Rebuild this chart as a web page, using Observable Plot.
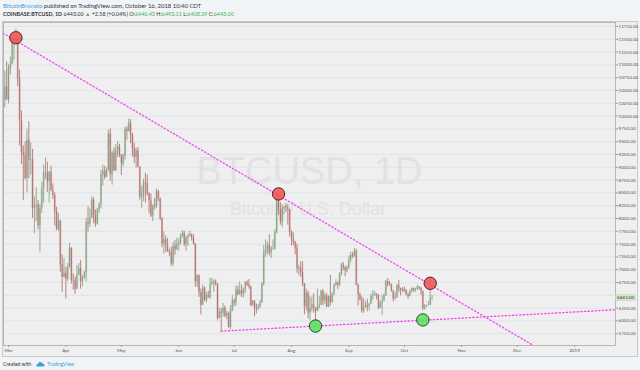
<!DOCTYPE html>
<html><head><meta charset="utf-8">
<script src="https://cdn.jsdelivr.net/npm/d3@7"></script>
<script src="https://cdn.jsdelivr.net/npm/@observablehq/plot@0.6"></script>
<style>
html,body{margin:0;padding:0;background:#f1f4f7;width:640px;height:370px;overflow:hidden;font-family:Lato,"Open Sans",sans-serif;}
.hdr{position:absolute;left:3px;font-size:5.9px;line-height:7px;color:#333;white-space:nowrap;}
#hdr1{top:1.5px;}
#hdr2{top:10.5px;font-size:5.4px;}
.blue{color:#3b9fdc;}
.grn{color:#4caf50;}
.b{font-weight:bold;}
#frame{position:absolute;left:2px;top:21px;width:634px;height:334px;border:1px solid #c9c9c9;background:#efefef;}
#frame svg{position:absolute;left:0;top:0;}
#footer{position:absolute;left:3px;top:361px;font-size:5px;line-height:6px;color:#333;white-space:nowrap;}
#footer svg{vertical-align:-1px;margin:0 2px 0 5px;}
</style></head>
<body>
<div class="hdr" id="hdr1"><span class="blue">BitcoinBravado</span> published on TradingView.com, October 16, 2018 10:40 CDT</div>
<div class="hdr" id="hdr2"><span class="b">COINBASE:BTCUSD, 1D</span> 6443.00 <span class="grn">▲</span> +2.58 (+0.04%) O:<span class="grn">6440.43</span> H:<span class="grn">6493.11</span> L:<span class="grn">6408.39</span> C:<span class="grn">6443.00</span></div>
<div id="frame"></div>
<div id="footer">Created with<svg width="9" height="6" viewBox="0 0 9 6"><path d="M1.5 5.5 Q0 5.5 0.3 4 Q0.6 3 1.8 3.2 Q2.2 1 4.2 1 Q6 1 6.4 2.6 Q8.8 2.6 8.6 4.4 Q8.4 5.5 7 5.5 Z" fill="#3b9fdc"/></svg><span class="blue">TradingView</span></div>
<script>
// Daily candles [open, high, low, close], consecutive days starting 2018-02-26
const firstDay = "2018-02-26";
const feb = [[9590,10420,9380,10320],[10320,10880,10160,10570],[10570,11060,10300,10320]];
const mar = [
[10320,11000,10240,10920],[10920,11150,10800,11020],[11020,11530,11000,11440],[11440,11510,11090,11490],
[11490,11700,11420,11520],[11520,11520,10580,10720],[10720,10900,9420,9900],[9900,10100,9050,9290],
[9290,9420,8350,9230],[9230,9500,8750,8780],[8780,9740,8500,9530],[9530,9890,8780,9140],
[9140,9480,8850,9150],[9150,9350,8000,8200],[8200,8420,7700,8260],[8260,8600,7940,8270],
[8270,8350,7780,7860],[7860,8270,7330,8200],[8200,8700,8100,8590],[8590,9050,8300,8900],
[8900,9180,8770,8900],[8900,9100,8510,8720],[8720,8920,8300,8900],[8900,9020,8520,8550],
[8550,8680,8370,8450],[8450,8500,7850,8130],[8130,8220,7760,7790],[7790,8100,7750,7950],
[7950,7970,6950,7090],[7090,7290,6560,6850],[6850,7220,6840,6930]];
const apr = [
[6930,7050,6430,6810],[6810,7120,6770,7050],[7050,7520,7030,7420],[7420,7430,6720,6790],
[6790,6920,6600,6780],[6780,6860,6520,6620],[6620,7080,6610,6900],[6900,7120,6880,7020],
[7020,7180,6620,6770],[6770,6880,6670,6830],[6830,6970,6820,6940],[6940,8000,6760,7920],
[7920,8230,7740,7890],[7890,8190,7830,8000],[8000,8420,8000,8360],[8360,8410,7900,8050],
[8050,8170,7830,7890],[7890,8200,7870,8170],[8170,8300,8100,8280],[8280,8940,8190,8860],
[8860,9040,8630,8920],[8920,9020,8760,8800],[8800,8990,8800,8940],[8940,9720,8920,9650],
[9650,9750,8730,8860],[8860,9310,8650,9280],[9280,9380,8920,8930],[8930,9440,8920,9340],
[9340,9500,9190,9400],[9400,9450,9190,9240]];
const may = [
[9240,9250,8840,9070],[9070,9260,9010,9220],[9220,9780,9140,9740],[9740,9790,9530,9700],
[9700,9940,9690,9860],[9860,9930,9460,9620],[9620,9660,9200,9370],[9370,9470,9070,9190],
[9190,9370,8980,9320],[9320,9390,8990,9010],[9010,9010,8360,8420],[8420,8630,8200,8470],
[8470,8770,8330,8700],[8700,8880,8300,8680],[8680,8850,8440,8480],[8480,8500,8100,8340],
[8340,8480,8020,8050],[8050,8270,7940,8240],[8240,8390,8170,8230],[8230,8580,8190,8520],
[8520,8550,8330,8390],[8390,8400,7960,7990],[7990,8020,7430,7500],[7500,7740,7300,7580],
[7580,7660,7340,7460],[7460,7610,7340,7350],[7350,7400,7260,7340],[7340,7440,7070,7110],
[7110,7530,7060,7460],[7460,7570,7280,7390],[7390,7620,7380,7490]];
const jun = [
[7490,7600,7360,7530],[7530,7700,7470,7640],[7640,7760,7620,7710],[7710,7750,7450,7490],
[7490,7650,7360,7620],[7620,7700,7460,7650],[7650,7750,7640,7680],[7680,7700,7560,7620],
[7620,7680,7480,7510],[7510,7510,6660,6770],[6770,6900,6650,6880],[6880,6900,6460,6550],
[6550,6620,6120,6310],[6310,6700,6300,6640],[6640,6660,6380,6400],[6400,6560,6350,6500],
[6500,6580,6440,6460],[6460,6830,6420,6710],[6710,6830,6690,6740],[6740,6800,6560,6760],
[6760,6800,6680,6720],[6720,6730,6000,6050],[6050,6250,6040,6170],[6170,6250,5780,6150],
[6150,6340,6070,6250],[6250,6290,6060,6090],[6090,6190,6020,6140],[6140,6170,5860,5870],
[5870,6300,5830,6200],[6200,6500,6180,6390]];
const jul = [
[6390,6430,6280,6350],[6350,6680,6280,6610],[6610,6680,6490,6510],[6510,6760,6500,6590],
[6590,6700,6460,6530],[6530,6640,6450,6600],[6600,6770,6530,6750],[6750,6780,6670,6700],
[6700,6810,6620,6660],[6660,6680,6280,6290],[6290,6400,6290,6390],[6390,6390,6080,6240],
[6240,6330,6140,6230],[6230,6320,6200,6270],[6270,6400,6250,6350],[6350,6750,6340,6720],
[6720,7480,6680,7320],[7320,7580,7240,7380],[7380,7540,7290,7470],[7470,7680,7270,7330],
[7330,7450,7220,7400],[7400,7580,7380,7400],[7400,7780,7380,7720],[7720,8480,7700,8400],
[8400,8490,8060,8170],[8170,8310,7870,7930],[7930,8270,7820,8190],[8190,8240,8070,8230],
[8230,8290,8120,8210],[8210,8270,7870,8170],[8170,8180,7640,7730]];
const aug = [
[7730,7760,7460,7600],[7600,7720,7470,7540],[7540,7550,7290,7420],[7420,7500,6930,7010],
[7010,7090,6880,7030],[7030,7160,6850,6940],[6940,7150,6670,6720],[6720,6730,6120,6280],
[6280,6620,6200,6540],[6540,6580,6040,6150],[6150,6480,6000,6240],[6240,6460,6180,6310],
[6310,6530,6150,6250],[6250,6260,5880,6190],[6190,6620,6180,6270],[6270,6480,6230,6310],
[6310,6600,6300,6580],[6580,6610,6300,6390],[6390,6540,6320,6490],[6490,6530,6260,6270],
[6270,6490,6260,6480],[6480,6890,6290,6360],[6360,6550,6350,6530],[6530,6720,6490,6690],
[6690,6800,6680,6740],[6740,6760,6610,6700],[6700,6940,6670,6910],[6910,7130,6880,7090],
[7090,7140,6980,7040],[7040,7060,6860,6980],[6980,7080,6940,7030]];
const sep = [
[7030,7270,7010,7190],[7190,7340,7130,7280],[7280,7340,7220,7260],[7260,7410,7240,7360],
[7360,7400,6690,6700],[6700,6720,6290,6510],[6510,6540,6390,6410],[6410,6470,6150,6190],
[6190,6440,6150,6250],[6250,6370,6250,6300],[6300,6420,6180,6280],[6280,6340,6200,6330],
[6330,6530,6330,6480],[6480,6590,6400,6490],[6490,6570,6480,6520],[6520,6530,6410,6500],
[6500,6510,6220,6250],[6250,6390,6240,6340],[6340,6500,6110,6390],[6390,6530,6380,6490],
[6490,6790,6480,6760],[6760,6830,6660,6720],[6720,6770,6680,6700],[6700,6720,6560,6590],
[6590,6590,6370,6430],[6430,6550,6410,6460],[6460,6710,6440,6690],[6690,6790,6550,6630],
[6630,6640,6490,6590],[6590,6650,6550,6620]];
const oct = [
[6620,6660,6550,6590],[6590,6610,6490,6520],[6520,6530,6420,6480],[6480,6600,6470,6580],
[6580,6650,6540,6630],[6630,6640,6560,6590],[6590,6640,6560,6610],[6610,6700,6600,6660],
[6660,6670,6600,6640],[6640,6650,6500,6580],[6580,6580,6200,6240],[6240,6320,6210,6290],
[6290,6310,6260,6300],[6300,6380,6290,6300],[6300,6780,6300,6440],[6440.43,6493.11,6408.39,6443]];

const gridTicks = [5750,6000,6250,6500,6750,7000,7250,7500,7750,8000,8250,8500,8750,9000,9250,9500,9750,10000,10250,10500,10750,11000,11250,11500,11750];
// 6500.00 label is hidden behind the last-price marker in the reference
const priceLabelTicks = [5750,6000,6250,6750,7000,7250,7500,7750,8000,8250,8500,8750,9000,9250,9500,9750,10000,10250,10500,10750,11000,11250,11500,11750];
const monthTickDates = ["2018-03-01","2018-04-01","2018-05-01","2018-06-01","2018-07-01","2018-08-01","2018-09-01","2018-10-01","2018-11-01","2018-12-01","2019-01-01"];
const monthTickLabels = ["Mar","Apr","May","Jun","Jul","Aug","Sep","Oct","Nov","Dec","2019"];

const upperTrend = [{date:"2018-02-26", value:11620},{date:"2018-12-12", value:5473}];
const lowerTrend = [{date:"2018-06-24", value:5800},{date:"2019-01-24", value:6220}];
const resistanceTouches = [{date:"2018-03-05", value:11530},{date:"2018-07-25", value:8480},{date:"2018-10-15", value:6735}];
const supportTouches = [{date:"2018-08-14", value:5900},{date:"2018-10-11", value:6020}];
const lastPrice = 6443.00;

// build table
const start = new Date(firstDay + "T00:00:00Z");
const rows = [].concat(feb, mar, apr, may, jun, jul, aug, sep, oct);
const candles = rows.map((r, i) => ({date: d3.utcDay.offset(start, i), open: r[0], high: r[1], low: r[2], close: r[3]}));
const up = candles.filter(d => d.close >= d.open);
const down = candles.filter(d => d.close < d.open);
const parse = s => new Date(s + "T00:00:00Z");
const toPts = arr => arr.map(d => ({date: parse(d.date), value: d.value}));
const tickDates = monthTickDates.map(parse);
const labelOf = new Map(tickDates.map((d, i) => [+d, monthTickLabels[i]]));

// layout: plot x range 0..612 px; Mar 1 sits 5 px in, 1.8497 px per day
const mar1 = parse("2018-03-01");
const pxPerDay = 1.8497;
const x0 = new Date(+mar1 - 5 / pxPerDay * 864e5);
const x1 = new Date(+mar1 + 607 / pxPerDay * 864e5);

const plot = Plot.plot({
  width: 634, height: 334,
  marginLeft: 0, marginRight: 22, marginTop: 0, marginBottom: 11,
  style: {background: "transparent", fontFamily: "Lato, 'Open Sans', sans-serif", fontSize: "4.6px", color: "#555", overflow: "visible"},
  x: {type: "utc", domain: [x0, x1]},
  y: {domain: [5520, 11828]},
  marks: [
    Plot.gridY(gridTicks, {stroke: "#d9e2ec", strokeOpacity: 1, strokeWidth: 0.8}),
    Plot.text(["BTCUSD, 1D"], {frameAnchor: "middle", dy: -12, fontSize: 38, fill: "#e2e2e2", fontFamily: "Liberation Sans"}),
    Plot.text(["Bitcoin / U.S. Dollar"], {frameAnchor: "middle", dx: -1.5, dy: 25, fontSize: 18, fill: "#e2e2e2", fontFamily: "Liberation Sans"}),
    Plot.ruleX(up, {x: "date", y1: "open", y2: "close", stroke: "#93b08c", strokeOpacity: 0.5, strokeWidth: 2, clip: true}),
    Plot.ruleX(down, {x: "date", y1: "open", y2: "close", stroke: "#c98585", strokeOpacity: 0.5, strokeWidth: 2, clip: true}),
    Plot.ruleX(up, {x: "date", y1: "low", y2: "high", stroke: "#66895f", strokeOpacity: 0.85, strokeWidth: 0.8, clip: true}),
    Plot.ruleX(down, {x: "date", y1: "low", y2: "high", stroke: "#a24c4c", strokeOpacity: 0.85, strokeWidth: 0.8, clip: true}),
    Plot.line(toPts(upperTrend), {x: "date", y: "value", stroke: "#f246f2", strokeWidth: 1.3, strokeDasharray: "1.3 2.3", clip: true}),
    Plot.line(toPts(lowerTrend), {x: "date", y: "value", stroke: "#f246f2", strokeWidth: 1.3, strokeDasharray: "1.3 2.3", clip: true}),
    Plot.dot(toPts(resistanceTouches), {x: "date", y: "value", r: 6.2, fill: "#f25656", fillOpacity: 0.9, stroke: "#3a1c1c", strokeWidth: 0.9}),
    Plot.dot(toPts(supportTouches), {x: "date", y: "value", r: 6.2, fill: "#5fe05f", fillOpacity: 0.9, stroke: "#1f3a1f", strokeWidth: 0.9}),
    Plot.axisY(priceLabelTicks, {anchor: "right", tickSize: 2, tickPadding: 1, tickFormat: d => d.toFixed(2), stroke: "#999", fill: "#555"}),
    Plot.axisX(tickDates, {anchor: "bottom", tickSize: 2, tickPadding: 1.5, tickFormat: d => labelOf.get(+d), stroke: "#999", fill: "#555"}),
    Plot.frame({stroke: "#a8a8a8", strokeWidth: 0.8})
  ]
});
document.getElementById("frame").appendChild(plot);

// last price marker on the price axis
const yPos = plot.scale("y").apply(lastPrice);
const svg = d3.select(plot);
const g = svg.append("g");
g.append("rect").attr("x", 612.5).attr("y", yPos - 3).attr("width", 20).attr("height", 6).attr("fill", "#d4e8cd").attr("stroke", "#b9d6b0").attr("stroke-width", 0.4);
g.append("text").attr("x", 614).attr("y", yPos).attr("dy", "0.35em").attr("text-anchor", "start").attr("font-size", 4.6).attr("fill", "#333").text(lastPrice.toFixed(2));
</script>
</body></html>
